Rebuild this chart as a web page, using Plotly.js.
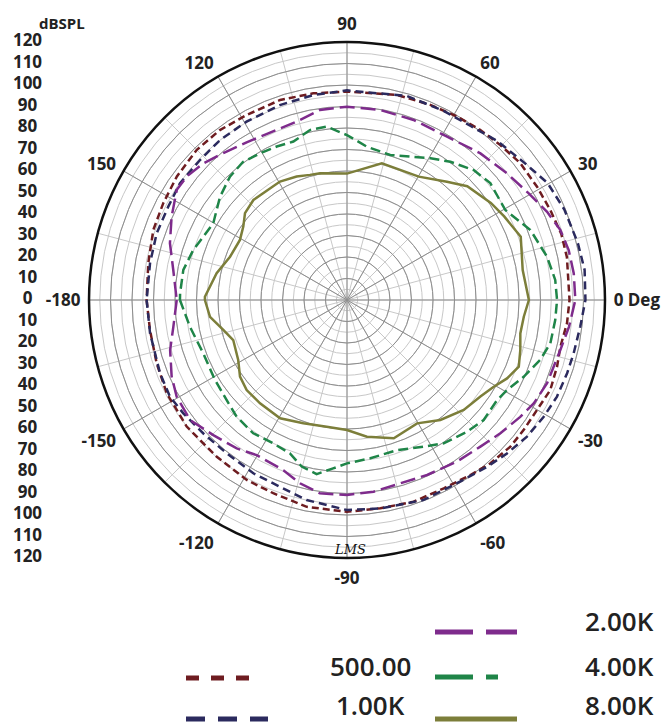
<!DOCTYPE html>
<html>
<head>
<meta charset="utf-8">
<script src="https://cdn.plot.ly/plotly-3.0.1.min.js"></script>
<style>html,body{margin:0;padding:0;background:#fff;}#chart{width:668px;height:724px;}</style>
</head>
<body>
<div id="chart"></div>
<script>
// ---- data (angle in degrees, level in dBSPL) ----
const theta500 = [-180,-171.3,-161.6,-152.6,-141.7,-129.7,-119.1,-110.9,-101,-90,-80.9,-71.7,-62.8,-54.8,-48.7,-41.9,-36.3,-30.1,-23.9,-17.6,-12.3,-6,0,11,17.1,23.9,30.8,38.3,45.3,51.9,59,66.9,76.3,90,99.3,108.5,118.5,126.8,135,144,152.2,160.1,169.5,180];
const r500 = [93.2,92.7,93.3,94.4,95.0,94.8,95.8,96.2,98.0,98.5,98.1,98.8,98.5,99.6,101.1,102.1,102.0,102.1,103.4,102.5,101.6,102.9,103.5,104.2,104.3,103.4,102.9,102.7,101.4,100.5,99.5,98.7,98.2,96.9,97.4,98.1,97.9,98.7,98.8,97.8,96.6,95.8,94.0,93.2];

const theta1k = [-180,-170.4,-158.6,-151.4,-145.3,-137.1,-128.1,-118.4,-109.7,-101.4,-90,-80.9,-69,-59,-50,-43.8,-37.2,-30.7,-24.7,-18.4,-13.2,-6.5,0,7.2,13.8,22.6,30.3,37.7,46.5,54.6,62.8,73.6,90,99.3,109,119.4,128.4,136.4,145,152.4,160.7,169.4,180];
const r1k = [93.2,92.9,93.4,93.8,92.6,91.2,90.6,91.6,92.3,94.9,97.7,98.2,99.6,99.4,101.3,103.1,105.1,106.4,107.5,107.9,108.3,109.2,110.9,111.4,110.6,109.5,108.0,104.3,101.8,99.3,98.8,98.9,97.5,96.6,95.9,95.2,95.0,94.4,94.8,93.8,93.8,93.2,93.2];

const theta2k = [-180,-171.3,-164.2,-156.4,-150.4,-142.6,-134.7,-126.6,-120.2,-110.5,-104.4,-98,-90,-82.1,-73.8,-65.4,-55.8,-47.7,-41,-34,-29,-22.6,-17.9,-13.2,-6.9,0,6.7,12.7,18.2,23.8,30.4,38.4,47.7,58.5,69.7,80,90,98.1,105.8,115.3,122.5,130.1,136.4,142.4,147.1,154.6,162.2,170.2,180];
const r2k = [79.2,81.7,85.5,89.0,91.1,91.9,88.4,86.0,83.5,84.5,88.0,90.8,90.7,90.0,88.8,89.5,90.9,92.2,94.5,97.2,99.3,100.8,101.0,101.9,104.0,106.2,106.2,105.7,104.4,101.7,98.0,94.9,92.2,89.1,89.3,89.7,89.9,89.3,86.2,85.7,86.9,89.3,92.2,94.1,94.3,90.3,86.5,82.0,79.2];

const theta4k = [-180,-170.3,-159.6,-148.8,-140.3,-133.4,-125.1,-117.2,-110.4,-105.2,-99.9,-94.7,-90,-81.6,-71.6,-62.4,-56,-47.7,-41.3,-33.7,-29.4,-23.5,-17.2,-12,-5.5,0,5.5,12.2,20.9,29.6,39.2,45.7,53.2,59.5,73.4,82.6,90,96.7,102.3,108.7,114.6,120.7,126.9,133.5,140.9,150.2,156.2,162,169.6,177.7,180];
const r4k = [77.7,74.1,71.3,71.8,72.8,74.7,75.8,75.0,76.1,80.3,82.2,78.6,76.0,74.4,73.6,77.0,80.4,82.9,84.6,83.9,85.4,89.6,94.1,96.7,97.3,97.7,97.3,95.2,91.3,84.7,86.0,84.4,80.3,76.5,70.4,71.9,76.7,81.2,80.9,77.8,78.5,79.3,80.4,79.1,76.1,71.7,73.0,75.2,77.4,77.7,77.7];

const theta8k = [-180,-173,-166.4,-160.6,-151.1,-144.4,-138.1,-130.1,-119.5,-109.5,-99.1,-90,-81.7,-71.3,-60.4,-52.1,-43.3,-35.9,-30.6,-26.1,-21.2,-16.1,-10.9,-5.4,0,9.7,20,28,34,43.4,49.8,59.8,75.7,90,102,106.5,112.2,119.5,133.1,139.6,144.7,150.7,159.7,168.4,178.7,180];
const r8k = [66.1,64.2,59.2,56.1,57.8,61.2,62.7,62.8,63.2,60.8,59.7,60.5,64.3,67.9,66.0,70.7,74.6,76.6,79.3,82.9,85.7,83.9,82.1,82.6,84.6,82.9,86.0,82.8,80.7,77.0,72.0,66.4,65.6,58.8,60.3,60.7,62.0,63.3,63.7,62.3,59.1,57.1,58.0,61.9,66.1,66.1];

const seriesNames = ["500.00","1.00K","2.00K","4.00K","8.00K"];
const angleTickVals = [0,30,60,90,120,150,180,210,240,270,300,330];
const angleTickText = ["0 Deg","30","60","90","120","150","-180","-150","-120","-90","-60","-30"];
const levelTickVals = [-120,-110,-100,-90,-80,-70,-60,-50,-40,-30,-20,-10,0,10,20,30,40,50,60,70,80,90,100,110,120];
const levelTickText = ["120","110","100","90","80","70","60","50","40","30","20","10","0","10","20","30","40","50","60","70","80","90","100","110","120"];

// ---- styles ----
const thetas = [theta500, theta1k, theta2k, theta4k, theta8k];
const rs = [r500, r1k, r2k, r4k, r8k];
const colors = ["#6e1c20","#2b2a5e","#7e2b8c","#1f8548","#7c7e3a"];
const plotDash = ["7px,4px","8px,5px","15px,6px","10px,5px","solid"];
const legDash = ["13px,12px","19px,13px","38px,13px","38px,13px,12px,13px","solid"];
const FONT = "Open Sans, Liberation Sans, sans-serif";
const W = 668, H = 724;
const cx = 347, cy = 300, R = 258;

// empty trace so the fine-grid polar subplot is drawn underneath
const traces = [{type: "scatterpolar", subplot: "polar", mode: "lines", r: [], theta: [], showlegend: false, hoverinfo: "skip"}];
seriesNames.forEach((n, i) => traces.push({
  type: "scatterpolar", subplot: "polar2", mode: "lines",
  theta: thetas[i], r: rs[i], name: n, showlegend: false,
  line: {color: colors[i], width: 2.5, dash: plotDash[i]},
  hoverinfo: "skip"
}));

// radial level labels in the left column, placed by a hidden cartesian axis
traces.push({
  type: "scatter", xaxis: "x", yaxis: "y", mode: "text",
  x: levelTickVals.map(() => 0), y: levelTickVals, text: levelTickText,
  textfont: {family: FONT, size: 17, weight: 700, color: "#222"},
  textposition: "middle center", showlegend: false, hoverinfo: "skip", cliponaxis: false
});

const dom = {x: [(cx - R) / W, (cx + R) / W], y: [1 - (cy + R) / H, 1 - (cy - R) / H]};

// legend keys (layout)
const legPos = [
  {x0: 186, x1: 250, y: 678, lx: 370, ly: 685},
  {x0: 186, x1: 268, y: 719, lx: 370, ly: 724},
  {x0: 435, x1: 517, y: 632, lx: 619, ly: 640},
  {x0: 435, x1: 498, y: 677, lx: 619, ly: 685},
  {x0: 435, x1: 517, y: 719, lx: 619, ly: 724}
];
const shapes = seriesNames.map((n, i) => ({
  type: "line", xref: "paper", yref: "paper",
  x0: legPos[i].x0 / W, x1: legPos[i].x1 / W, y0: 1 - legPos[i].y / H, y1: 1 - legPos[i].y / H,
  line: {color: colors[i], width: 5, dash: legDash[i]}
}));
const annotations = seriesNames.map((n, i) => ({
  text: n, xref: "paper", yref: "paper", x: legPos[i].lx / W, y: 1 - legPos[i].ly / H,
  xanchor: "center", yanchor: "bottom", showarrow: false, borderpad: 0,
  font: {family: FONT, size: 26, weight: 600, color: "#222"}
}));
annotations.push({
  text: "dBSPL", xref: "paper", yref: "paper", x: 62 / W, y: 1 - 23 / H,
  xanchor: "center", yanchor: "middle", showarrow: false,
  font: {family: FONT, size: 15, weight: 700, color: "#222"}
});
annotations.push({
  text: "<i>LMS</i>", xref: "paper", yref: "paper", x: 350 / W, y: 1 - 549 / H,
  xanchor: "center", yanchor: "middle", showarrow: false,
  font: {family: "DejaVu Serif, serif", size: 13, color: "#111"}
});

const layout = {
  width: W, height: H, margin: {l: 0, r: 0, t: 0, b: 0},
  paper_bgcolor: "#fff", plot_bgcolor: "rgba(0,0,0,0)", showlegend: false,
  xaxis: {domain: [0, 55 / W], range: [-1, 1], visible: false, fixedrange: true},
  yaxis: {domain: dom.y, range: [-120, 120], visible: false, fixedrange: true},
  polar: {
    domain: dom, bgcolor: "#fff",
    radialaxis: {range: [0, 120], dtick: 5, tick0: 0, showticklabels: false, ticks: "", showline: false,
      gridcolor: "#c8c8c8", gridwidth: 1},
    angularaxis: {direction: "counterclockwise", rotation: 0, dtick: 15, tick0: 0, showticklabels: false,
      ticks: "", showline: false, gridcolor: "#c8c8c8", gridwidth: 1}
  },
  polar2: {
    domain: dom, bgcolor: "rgba(0,0,0,0)",
    radialaxis: {range: [0, 120], dtick: 10, tick0: 0, showticklabels: false, ticks: "", showline: false,
      gridcolor: "#8e8e8e", gridwidth: 1},
    angularaxis: {direction: "counterclockwise", rotation: 0, tickmode: "array",
      tickvals: angleTickVals, ticktext: angleTickText, ticks: "outside", ticklen: 4, tickcolor: "rgba(0,0,0,0)",
      showline: true, linecolor: "#111", linewidth: 2.5, gridcolor: "#8e8e8e", gridwidth: 1,
      tickfont: {family: FONT, size: 17, weight: 700, color: "#222"}}
  },
  shapes: shapes, annotations: annotations
};

Plotly.newPlot("chart", traces, layout, {staticPlot: true, displayModeBar: false});
</script>
</body>
</html>
